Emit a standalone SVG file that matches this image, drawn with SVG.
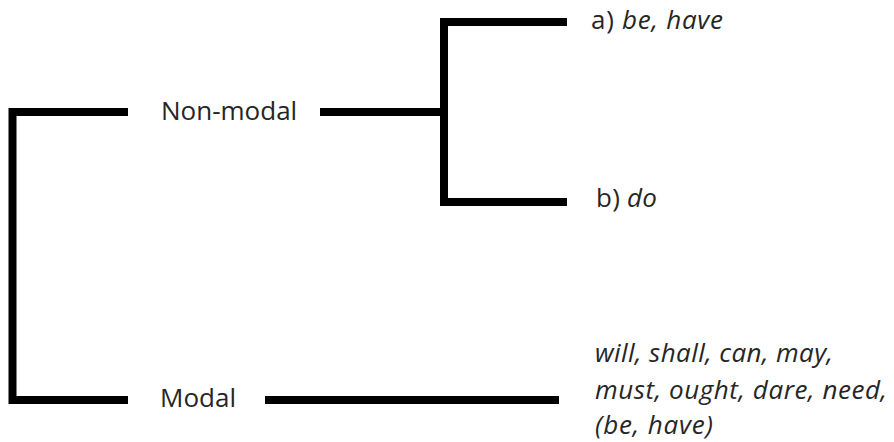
<svg xmlns="http://www.w3.org/2000/svg" width="894" height="442" viewBox="0 0 894 442">
<style>
.ln{fill:none;stroke:#000;stroke-width:8;stroke-linejoin:miter;stroke-linecap:butt}
.t{font-family:"Open Sans","DejaVu Sans",sans-serif;font-size:26px;fill:#262626}
.i{font-style:italic}
</style>
<rect width="894" height="442" fill="#fff"/>
<g id="connectors">
<polyline class="ln" points="128,112 12.5,112 12.5,400 128,400"/>
<polyline class="ln" points="567,22 444,22 444,202 567,202"/>
<line class="ln" x1="320" y1="112" x2="444" y2="112" stroke-linecap="round"/>
<line class="ln" x1="265" y1="400" x2="559" y2="400" stroke-linecap="round"/>
</g>
<g id="node-nonmodal"><text class="t" x="161" y="120">Non-modal</text></g>
<g id="node-modal"><text class="t" x="160" y="407">Modal</text></g>
<g id="node-a"><text class="t" x="591" y="29" textLength="132">a) <tspan class="i">be, have</tspan></text></g>
<g id="node-b"><text class="t" x="596" y="207" textLength="61">b) <tspan class="i">do</tspan></text></g>
<g id="node-modal-list">
<text class="t i" x="595" y="362" textLength="238">will, shall, can, may,</text>
<text class="t i" x="595" y="399" textLength="292">must, ought, dare, need,</text>
<text class="t i" x="595" y="434" textLength="118">(be, have)</text>
</g>
</svg>
